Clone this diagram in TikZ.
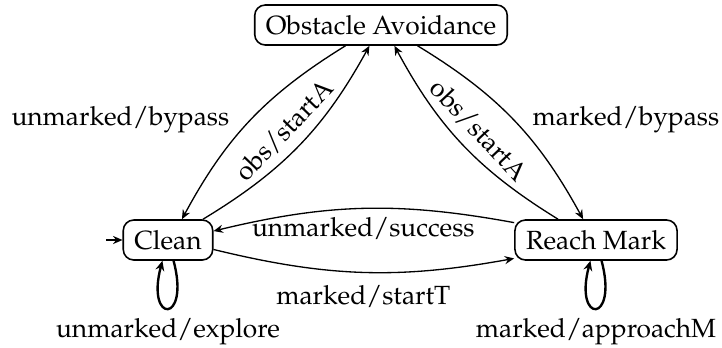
\documentclass[tikz,border=0pt]{standalone}
\usepackage[T1]{fontenc}
\usepackage{mathpazo}
\usetikzlibrary{arrows.meta}
\begin{document}
\begin{tikzpicture}[x=0.38pt,y=-0.38pt,
  every node/.style={font=\fontsize{10}{12}\selectfont},
  state/.style={draw, line width=0.6pt, rounded corners=4pt,
    inner xsep=4.2pt, inner ysep=0pt, minimum height=15.2pt},
  trans/.style={line width=0.5pt,
    -{Stealth[length=3.6pt,width=3.1pt,inset=1.2pt]}},
  selfloop/.style={line width=0.9pt,
    -{Stealth[length=3.8pt,width=3.4pt,inset=1.3pt]}}
]
\useasboundingbox (0,0) rectangle (722,347);

% states
\node[state] (obs)   at (381,25)  {Obstacle Avoidance};
\node[state] (clean) at (168,240) {Clean};
\node[state] (reach) at (596,240) {Reach Mark};

% initial state marker
\coordinate (start) at (106,240);
\draw[trans] (start) -- (clean);

% left pair of transitions
\draw[trans] ([xshift=-13.5pt]obs.south) to[bend right=15]
  node[left=4.5pt] {unmarked/bypass} ([xshift=5.3pt]clean.north);
\draw[trans] ([xshift=13.3pt]clean.north) to[bend right=15]
  node[above, sloped] {obs/startA} ([xshift=-4.4pt]obs.south);

% right pair of transitions
\draw[trans] ([xshift=13.9pt]obs.south) to[bend left=15]
  node[right=3.7pt] {marked/bypass} ([xshift=-4.9pt]reach.north);
\draw[trans] ([xshift=-14.4pt]reach.north) to[bend left=15]
  node[above, sloped] {obs/startA} ([xshift=5.1pt]obs.south);

% bottom pair of transitions
\draw[trans] ([yshift=6.6pt]reach.west) to[bend right=12]
  node[below] {unmarked/success} ([yshift=3.4pt]clean.east);
\draw[trans] ([yshift=-3.6pt]clean.east) to[bend right=12]
  node[below=1.5pt] {marked/startT} ([yshift=-7pt]reach.west);

% self loops
\draw[selfloop] (clean) to[out=285, in=255, distance=25pt]
  node[below] {unmarked/explore} (clean);
\draw[selfloop] (reach) to[out=285, in=255, distance=25pt]
  node[below] {marked/approachM} (reach);
\end{tikzpicture}
\end{document}
